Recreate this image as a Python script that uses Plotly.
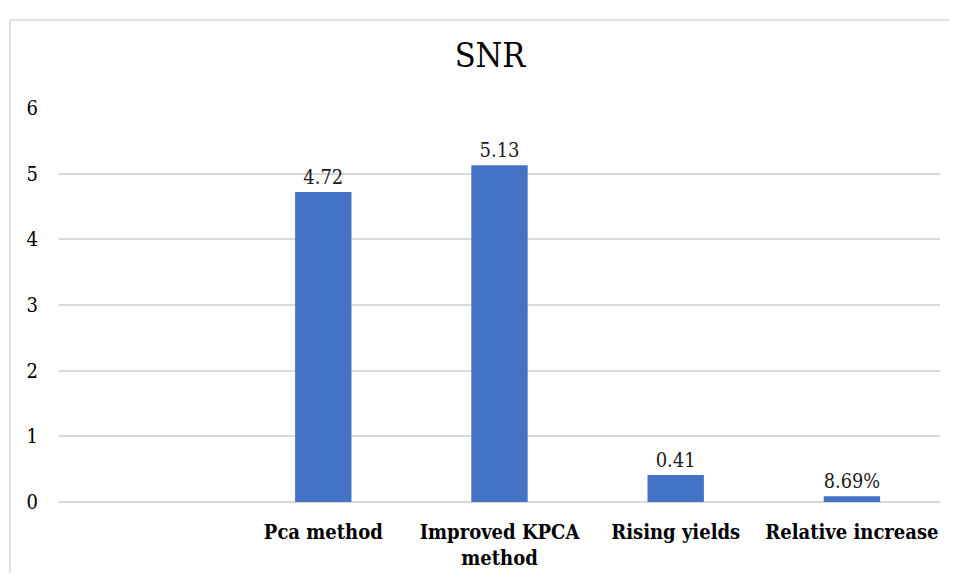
import plotly.graph_objects as go

categories = [" ", "Pca method", "Improved KPCA<br>method", "Rising yields", "Relative increase"]
values = [None, 4.72, 5.13, 0.41, 0.0869]
labels = ["", "4.72", "5.13", "0.41", "8.69%"]
y_ticks = [0, 1, 2, 3, 4, 5, 6]

SERIF = "DejaVu Serif Condensed, DejaVu Serif"

# page body has an 8px margin; figure sized to fit the 957x581 window
OFF = 8
W, H = 957 - 2 * OFF, 581 - 2 * OFF
L, T = 59 - OFF, 108 - OFF
R = W - (940 - OFF)
B = H - (502 - OFF)
pw, ph = W - L - R, H - T - B

fig = go.Figure(go.Bar(
    x=categories, y=values, text=labels, textposition="outside",
    textfont=dict(family=SERIF, size=20, color="#1a1a1a"),
    marker=dict(color="#4472C4", line=dict(width=0)),
    width=0.32, cliponaxis=False,
))

def px(x):
    return (x - OFF - L) / pw

def py(y):
    return (H - B - (y - OFF)) / ph

fig.update_layout(
    width=W, height=H,
    margin=dict(l=L, r=R, t=T, b=B),
    paper_bgcolor="white", plot_bgcolor="white",
    showlegend=False,
    title=dict(text="SNR", x=(490 - OFF) / W, xanchor="center",
               y=1 - (55 - OFF) / H, yanchor="middle",
               font=dict(family=SERIF, size=34, color="black")),
    xaxis=dict(type="category", tickangle=0, showgrid=False, showline=False, ticks="",
               tickfont=dict(family=SERIF, size=20, color="black", weight="bold"),
               ticklabelstandoff=16, automargin=False, range=[-0.5, 4.5]),
    yaxis=dict(range=[0, 6], tickvals=y_ticks, showgrid=True, gridcolor="#d9d9d9", gridwidth=1.5,
               zeroline=True, zerolinecolor="#d9d9d9", zerolinewidth=1.5,
               ticks="", ticklabelstandoff=20, automargin=False,
               tickfont=dict(family=SERIF, size=20, color="black")),
    shapes=[dict(type="rect", xref="paper", yref="paper",
                 x0=px(10), x1=px(1000), y0=py(640), y1=py(20),
                 line=dict(color="#d9d9d9", width=1.5), fillcolor="rgba(0,0,0,0)", layer="below")],
)

fig.write_html("out.html")
